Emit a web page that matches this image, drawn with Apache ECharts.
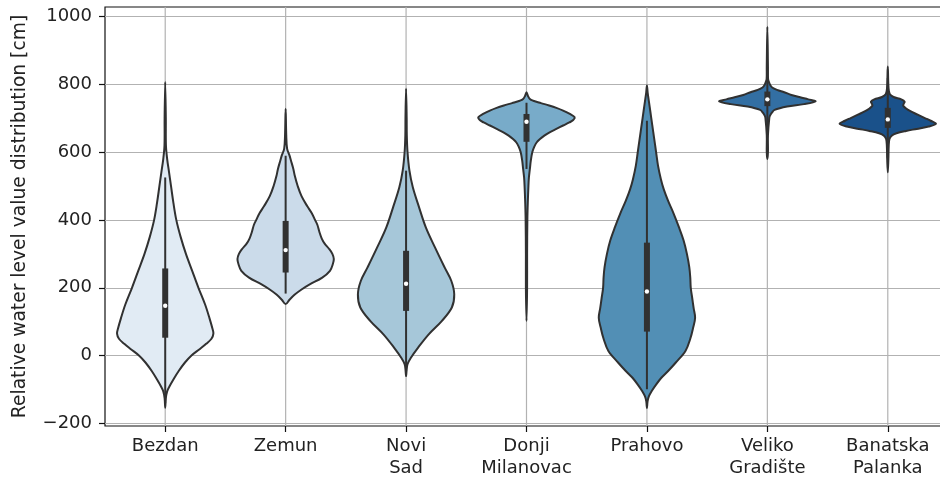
<!DOCTYPE html>
<html>
<head>
<meta charset="utf-8">
<script src="https://cdn.jsdelivr.net/npm/echarts@6/dist/echarts.min.js"></script>
<style>
  html, body { margin: 0; padding: 0; background: #ffffff; }
  #chart { width: 940px; height: 481px; }
</style>
</head>
<body>
<div id="chart"></div>
<script>
// Gauging stations along the Danube, upstream to downstream
const stations = ['Bezdan', 'Zemun', 'Novi\nSad', 'Donji\nMilanovac', 'Prahovo', 'Veliko\nGradište', 'Banatska\nPalanka'];
const yTicks = [-200, 0, 200, 400, 600, 800, 1000];

// Box summary per station [cm]
const whiskerLow  = [-140, 183, -45, 550, -99, 672, 583];
const q1          = [53, 245, 132, 630, 71, 735, 671];
const median      = [147, 311, 212, 689, 189, 755, 696];
const q3          = [257, 397, 309, 712, 333, 778, 730];
const whiskerHigh = [525, 589, 545, 745, 692, 840, 818];

// Kernel density profiles: water level [cm] and density relative to each station's peak
const bezdanLevels  = [-153, -125, -105, -90, -70, -45, -20, 0, 20, 35, 50, 65, 80, 110, 150, 200, 250, 300, 350, 400, 450, 500, 540, 580, 620, 700, 806];
const bezdanDensity = [0, 0.01, 0.04, 0.09, 0.17, 0.28, 0.41, 0.54, 0.72, 0.85, 0.96, 1.00, 0.98, 0.92, 0.83, 0.69, 0.56, 0.43, 0.32, 0.23, 0.17, 0.12, 0.08, 0.04, 0.015, 0.006, 0];

const zemunLevels  = [152, 165, 180, 195, 210, 230, 250, 270, 285, 300, 315, 330, 345, 365, 385, 400, 420, 440, 470, 500, 530, 550, 575, 590, 610, 650, 727];
const zemunDensity = [0, 0.08, 0.19, 0.33, 0.50, 0.76, 0.92, 0.98, 1.00, 0.97, 0.90, 0.81, 0.75, 0.70, 0.66, 0.61, 0.54, 0.45, 0.33, 0.25, 0.19, 0.16, 0.11, 0.08, 0.03, 0.01, 0];

const noviSadLevels  = [-60, -40, -25, -6, 24, 63, 102, 142, 181, 220, 260, 319, 378, 437, 496, 545, 600, 650, 700, 786];
const noviSadDensity = [0, 0.01, 0.03, 0.10, 0.25, 0.47, 0.74, 0.95, 1.00, 0.94, 0.80, 0.60, 0.41, 0.27, 0.14, 0.07, 0.03, 0.015, 0.006, 0];

const donjiLevels  = [102, 200, 300, 400, 451, 500, 525, 550, 575, 599, 615, 628, 638, 648, 658, 668, 678, 687, 694, 702, 712, 722, 730, 737, 744, 751, 756, 765, 776];
const donjiDensity = [0, 0.01, 0.012, 0.018, 0.027, 0.04, 0.05, 0.07, 0.09, 0.12, 0.16, 0.21, 0.28, 0.37, 0.48, 0.62, 0.76, 0.89, 0.97, 1.00, 0.90, 0.76, 0.62, 0.47, 0.30, 0.14, 0.07, 0.03, 0];

const prahovoLevels  = [-155, -135, -120, -104, -85, -65, -45, -20, 14, 50, 83, 112, 140, 170, 200, 230, 260, 300, 340, 380, 420, 456, 490, 520, 560, 600, 640, 680, 720, 750, 775, 796];
const prahovoDensity = [0, 0.01, 0.04, 0.10, 0.19, 0.30, 0.44, 0.60, 0.80, 0.90, 0.96, 1.00, 0.97, 0.94, 0.91, 0.90, 0.88, 0.83, 0.76, 0.66, 0.55, 0.44, 0.35, 0.29, 0.23, 0.19, 0.15, 0.11, 0.07, 0.04, 0.015, 0];

const velikoLevels  = [579, 600, 650, 700, 707, 715, 724, 734, 741, 749, 755, 761, 768, 776, 783, 790, 797, 805, 815, 850, 969];
const velikoDensity = [0, 0.01, 0.01, 0.04, 0.055, 0.09, 0.15, 0.41, 0.76, 1.00, 0.85, 0.68, 0.50, 0.35, 0.20, 0.10, 0.06, 0.035, 0.015, 0.01, 0];

const banatskaLevels  = [540, 580, 620, 638, 648, 655, 662, 668, 675, 683, 692, 700, 710, 720, 728, 736, 742, 748, 755, 762, 771, 790, 852];
const banatskaDensity = [0, 0.01, 0.02, 0.035, 0.08, 0.18, 0.38, 0.60, 0.85, 1.00, 0.89, 0.77, 0.62, 0.47, 0.38, 0.32, 0.33, 0.35, 0.28, 0.12, 0.04, 0.015, 0];

const profiles = [
  { levels: bezdanLevels,   density: bezdanDensity },
  { levels: zemunLevels,    density: zemunDensity },
  { levels: noviSadLevels,  density: noviSadDensity },
  { levels: donjiLevels,    density: donjiDensity },
  { levels: prahovoLevels,  density: prahovoDensity },
  { levels: velikoLevels,   density: velikoDensity },
  { levels: banatskaLevels, density: banatskaDensity }
];

// Sequential blue palette, softened
const fills = ['#e1ebf4', '#cbdbea', '#a6c7d9', '#78abc9', '#528fb5', '#336fa3', '#1a518a'];
const INK = '#313131';
const GRID = '#b2b2b2';
const FONT = 'DejaVu Sans';
const VIOLIN_WIDTH = 0.8;

const tickText = v => (v < 0 ? '\u2212' + Math.abs(v) : String(v));

function renderViolin(params, api) {
  const i = api.value(0);
  const cs = params.coordSys;
  const cx = api.coord([i, 0])[0];
  const half = api.size([1, 0])[0] * VIOLIN_WIDTH / 2;
  const yAt = v => api.coord([i, v])[1];
  const prof = profiles[i];
  const n = prof.levels.length;
  const right = [];
  const left = [];
  for (let k = 0; k < n; k++) {
    const d = prof.density[k];
    const w = d > 0 ? Math.max(d * half, 0.6) : 0;
    const y = yAt(prof.levels[k]);
    right.push([cx + w, y]);
    if (k > 0 && k < n - 1) left.unshift([cx - w, y]);
  }
  const yLo = yAt(api.value(1));
  const yQ1 = yAt(api.value(2));
  const yMed = yAt(api.value(3));
  const yQ3 = yAt(api.value(4));
  const yHi = yAt(api.value(5));
  return {
    type: 'group',
    children: [
      { type: 'line', silent: true,
        shape: { x1: cx, y1: cs.y, x2: cx, y2: cs.y + cs.height },
        style: { stroke: GRID, lineWidth: 1.2 } },
      { type: 'polygon',
        shape: { points: right.concat(left), smooth: 0.35 },
        style: { fill: fills[i], stroke: INK, lineWidth: 2, lineJoin: 'round' } },
      { type: 'line',
        shape: { x1: cx, y1: yLo, x2: cx, y2: yHi },
        style: { stroke: INK, lineWidth: 2 } },
      { type: 'rect',
        shape: { x: cx - 3, y: yQ3, width: 6, height: yQ1 - yQ3 },
        style: { fill: INK } },
      { type: 'circle',
        shape: { cx: cx, cy: yMed, r: 2.2 },
        style: { fill: '#ffffff' } }
    ]
  };
}

const chart = echarts.init(document.getElementById('chart'), null, { renderer: 'canvas' });
chart.setOption({
  animation: false,
  backgroundColor: '#ffffff',
  grid: {
    left: 105, top: 7, width: 843, height: 419,
    outerBoundsMode: 'none',
    containLabel: false,
    show: true, borderColor: '#111111', borderWidth: 1.2, backgroundColor: 'transparent'
  },
  xAxis: {
    type: 'category',
    data: stations,
    boundaryGap: true,
    axisLine: { show: false, onZero: false },
    axisTick: { show: true, alignWithLabel: true, length: 6, lineStyle: { color: '#111111', width: 1.2 } },
    axisLabel: { color: '#222222', fontFamily: FONT, fontSize: 18, lineHeight: 22, margin: 9, interval: 0 },
    splitLine: { show: false }
  },
  yAxis: {
    type: 'value',
    min: -207,
    max: 1027,
    splitNumber: 6,
    name: 'Relative water level value distribution [cm]',
    nameLocation: 'middle',
    nameRotate: 90,
    nameGap: 75,
    nameTextStyle: { color: '#222222', fontFamily: FONT, fontSize: 18.7 },
    axisLine: { show: false },
    axisTick: { show: true, customValues: yTicks, length: 6, lineStyle: { color: '#111111', width: 1.2 } },
    axisLabel: { customValues: yTicks, formatter: tickText, color: '#222222', fontFamily: FONT, fontSize: 18, margin: 13 },
    splitLine: { show: true, lineStyle: { color: GRID, width: 1.2 } }
  },
  series: [{
    type: 'custom',
    renderItem: renderViolin,
    encode: { x: 0, y: [1, 2, 3, 4, 5] },
    data: stations.map((_, i) => [i, whiskerLow[i], q1[i], median[i], q3[i], whiskerHigh[i]])
  }]
});
</script>
</body>
</html>
